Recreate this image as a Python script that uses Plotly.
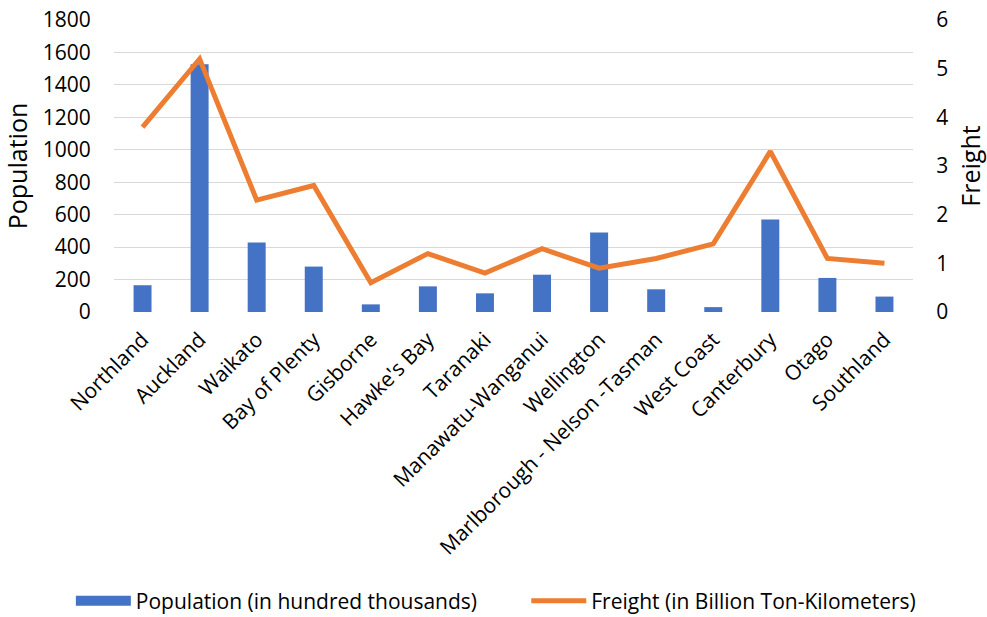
import plotly.graph_objects as go

regions = ["Northland", "Auckland", "Waikato", "Bay of Plenty", "Gisborne",
           "Hawke's Bay", "Taranaki", "Manawatu-Wanganui", "Wellington",
           "Marlborough - Nelson -Tasman", "West Coast", "Canterbury",
           "Otago", "Southland"]
population = [165, 1527, 428, 280, 47, 158, 115, 230, 490, 140, 30, 570, 210, 95]
freight = [3.8, 5.2, 2.3, 2.6, 0.6, 1.2, 0.8, 1.3, 0.9, 1.1, 1.4, 3.3, 1.1, 1.0]

FONT = "Open Sans, sans-serif"
BLUE = "#4472C4"
ORANGE = "#ED7D31"
GRID = "#D9D9D9"
POP_NAME = "Population (in hundred thousands)"
FREIGHT_NAME = "Freight (in Billion Ton-Kilometers)"

fig = go.Figure()
fig.add_trace(go.Bar(
    x=regions, y=population, name=POP_NAME, showlegend=False,
    marker=dict(color=BLUE, line=dict(width=0)), yaxis="y",
))
# legend key for the bars: a wide flat swatch
fig.add_trace(go.Scatter(
    x=[None], y=[None], name=POP_NAME, mode="lines",
    line=dict(color=BLUE, width=12), yaxis="y", legend="legend",
    hoverinfo="skip",
))
fig.add_trace(go.Scatter(
    x=regions, y=freight, name=FREIGHT_NAME,
    mode="lines", line=dict(color=ORANGE, width=5), yaxis="y2",
    legend="legend2",
))

legend_style = dict(orientation="h", xanchor="left", yanchor="middle",
                    y=-0.99, font=dict(size=21), itemwidth=55,
                    bgcolor="rgba(0,0,0,0)")

fig.update_layout(
    width=987, height=617,
    margin=dict(l=114, r=74, t=20, b=305, autoexpand=False),
    paper_bgcolor="white", plot_bgcolor="white",
    font=dict(family=FONT, size=21, color="#000000"),
    bargap=0.685,
    showlegend=True,
    legend=dict(x=-0.054, **legend_style),
    legend2=dict(x=0.516, **legend_style),
    xaxis=dict(tickangle=-45, showgrid=False, showline=False, zeroline=False,
               ticks="outside", ticklen=6, tickcolor="rgba(0,0,0,0)",
               automargin=False),
    yaxis=dict(range=[0, 1800], dtick=200, showgrid=True, gridcolor=GRID,
               gridwidth=1, zeroline=False, showline=False,
               ticks="outside", ticklen=18, tickcolor="rgba(0,0,0,0)",
               title=dict(text="Population", standoff=10), automargin=False),
    yaxis2=dict(range=[0, 6], dtick=1, overlaying="y", side="right",
                showgrid=False, zeroline=False, showline=False,
                ticks="outside", ticklen=18, tickcolor="rgba(0,0,0,0)",
                title=dict(text="Freight", standoff=16), automargin=False),
)

fig.write_html("out.html")
